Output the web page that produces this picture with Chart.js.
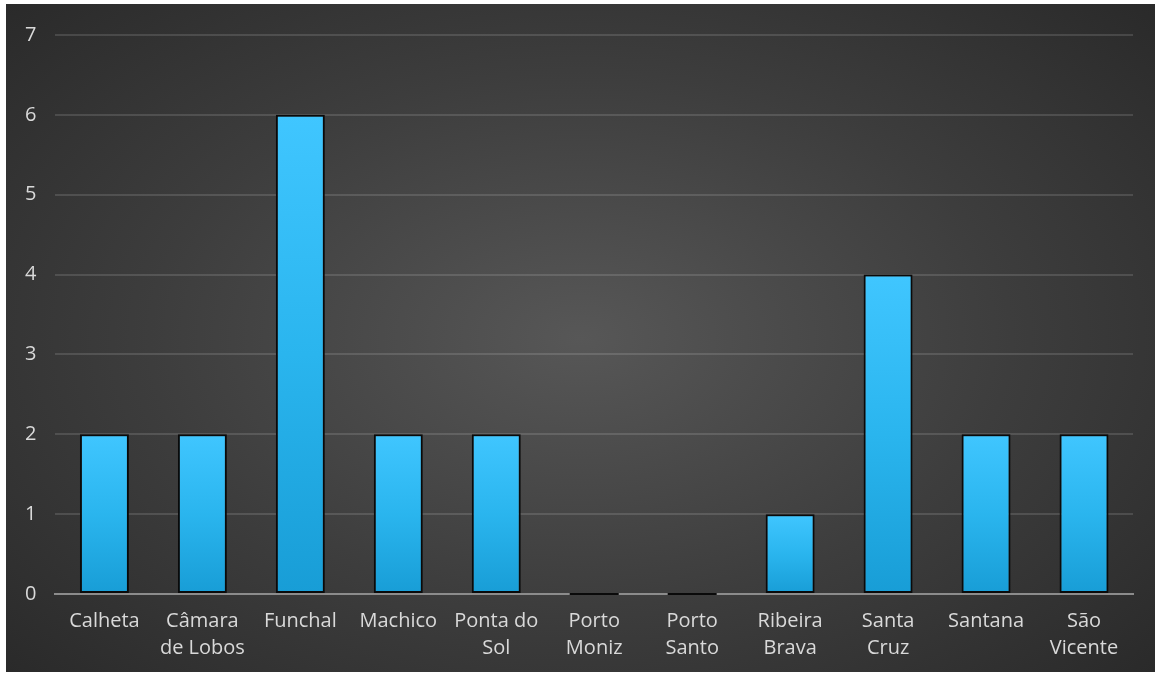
<!DOCTYPE html>
<html>
<head>
<meta charset="utf-8">
<script src="https://cdn.jsdelivr.net/npm/chart.js@4/dist/chart.umd.min.js"></script>
<style>
  html, body { margin: 0; padding: 0; background: #fff; }
  #wrap {
    position: absolute; left: 6px; top: 4px; width: 1149px; height: 668px;
    background: radial-gradient(ellipse 75% 80% at 50% 50%, #575757 0%, #3d3d3d 50%, #262626 100%);
  }
</style>
</head>
<body>
<div id="wrap"><canvas id="municipiosChart"></canvas></div>
<script>
// Categories and values
const municipios = [
  'Calheta', ['Câmara', 'de Lobos'], 'Funchal', 'Machico', ['Ponta do', 'Sol'],
  ['Porto', 'Moniz'], ['Porto', 'Santo'], ['Ribeira', 'Brava'], ['Santa', 'Cruz'],
  'Santana', ['São', 'Vicente']
];
const valores = [2, 2, 6, 2, 2, 0, 0, 1, 4, 2, 2];
const yTicks = [0, 1, 2, 3, 4, 5, 6, 7];

const fontFamily = "'Open Sans', 'DejaVu Sans', sans-serif";

// vertical blue gradient, one per bar
function barGradient(context) {
  const chart = context.chart;
  const y = chart.scales.y;
  if (!chart.chartArea || !y || context.parsed === undefined) return '#2ab4ef';
  const top = y.getPixelForValue(context.parsed.y);
  const bottom = y.getPixelForValue(0);
  if (bottom - top < 1) return '#2ab4ef';
  const g = chart.ctx.createLinearGradient(0, top, 0, bottom);
  g.addColorStop(0, '#40c6ff');
  g.addColorStop(0.5, '#2ab5ee');
  g.addColorStop(1, '#189dd6');
  return g;
}

// zero-height bars still show their dark outline on the axis
const zeroBarOutline = {
  id: 'zeroBarOutline',
  afterDatasetsDraw(chart) {
    const meta = chart.getDatasetMeta(0);
    const c = chart.ctx;
    c.save();
    c.strokeStyle = '#0a0a0a';
    c.lineWidth = 2;
    meta.data.forEach((bar, i) => {
      if (valores[i] !== 0) return;
      const half = bar.width / 2;
      c.beginPath();
      c.moveTo(bar.x - half, bar.base);
      c.lineTo(bar.x + half, bar.base);
      c.stroke();
    });
    c.restore();
  }
};

const ctx = document.getElementById('municipiosChart').getContext('2d');
new Chart(ctx, {
  type: 'bar',
  data: {
    labels: municipios,
    datasets: [{
      data: valores,
      backgroundColor: barGradient,
      borderColor: '#0a0a0a',
      borderWidth: 2,
      borderSkipped: false,
      barPercentage: 0.5,
      categoryPercentage: 1.0
    }]
  },
  plugins: [zeroBarOutline],
  options: {
    responsive: true,
    maintainAspectRatio: false,
    animation: false,
    layout: { padding: { top: 3, right: 22, bottom: 4, left: 0 } },
    plugins: { legend: { display: false }, tooltip: { enabled: false } },
    scales: {
      x: {
        grid: { display: false },
        border: { color: '#8c8c8c', width: 2 },
        ticks: {
          color: '#d9d9d9', maxRotation: 0, autoSkip: false, padding: 6,
          font: { family: fontFamily, size: 20, lineHeight: 1.35 }
        }
      },
      y: {
        min: 0, max: 7,
        afterBuildTicks: axis => { axis.ticks = yTicks.map(v => ({ value: v })); },
        grid: { color: 'rgba(255,255,255,0.13)', lineWidth: 2, drawTicks: false },
        border: { display: false },
        ticks: {
          color: '#d9d9d9', padding: 19,
          font: { family: fontFamily, size: 20 }
        }
      }
    }
  }
});
</script>
</body>
</html>
